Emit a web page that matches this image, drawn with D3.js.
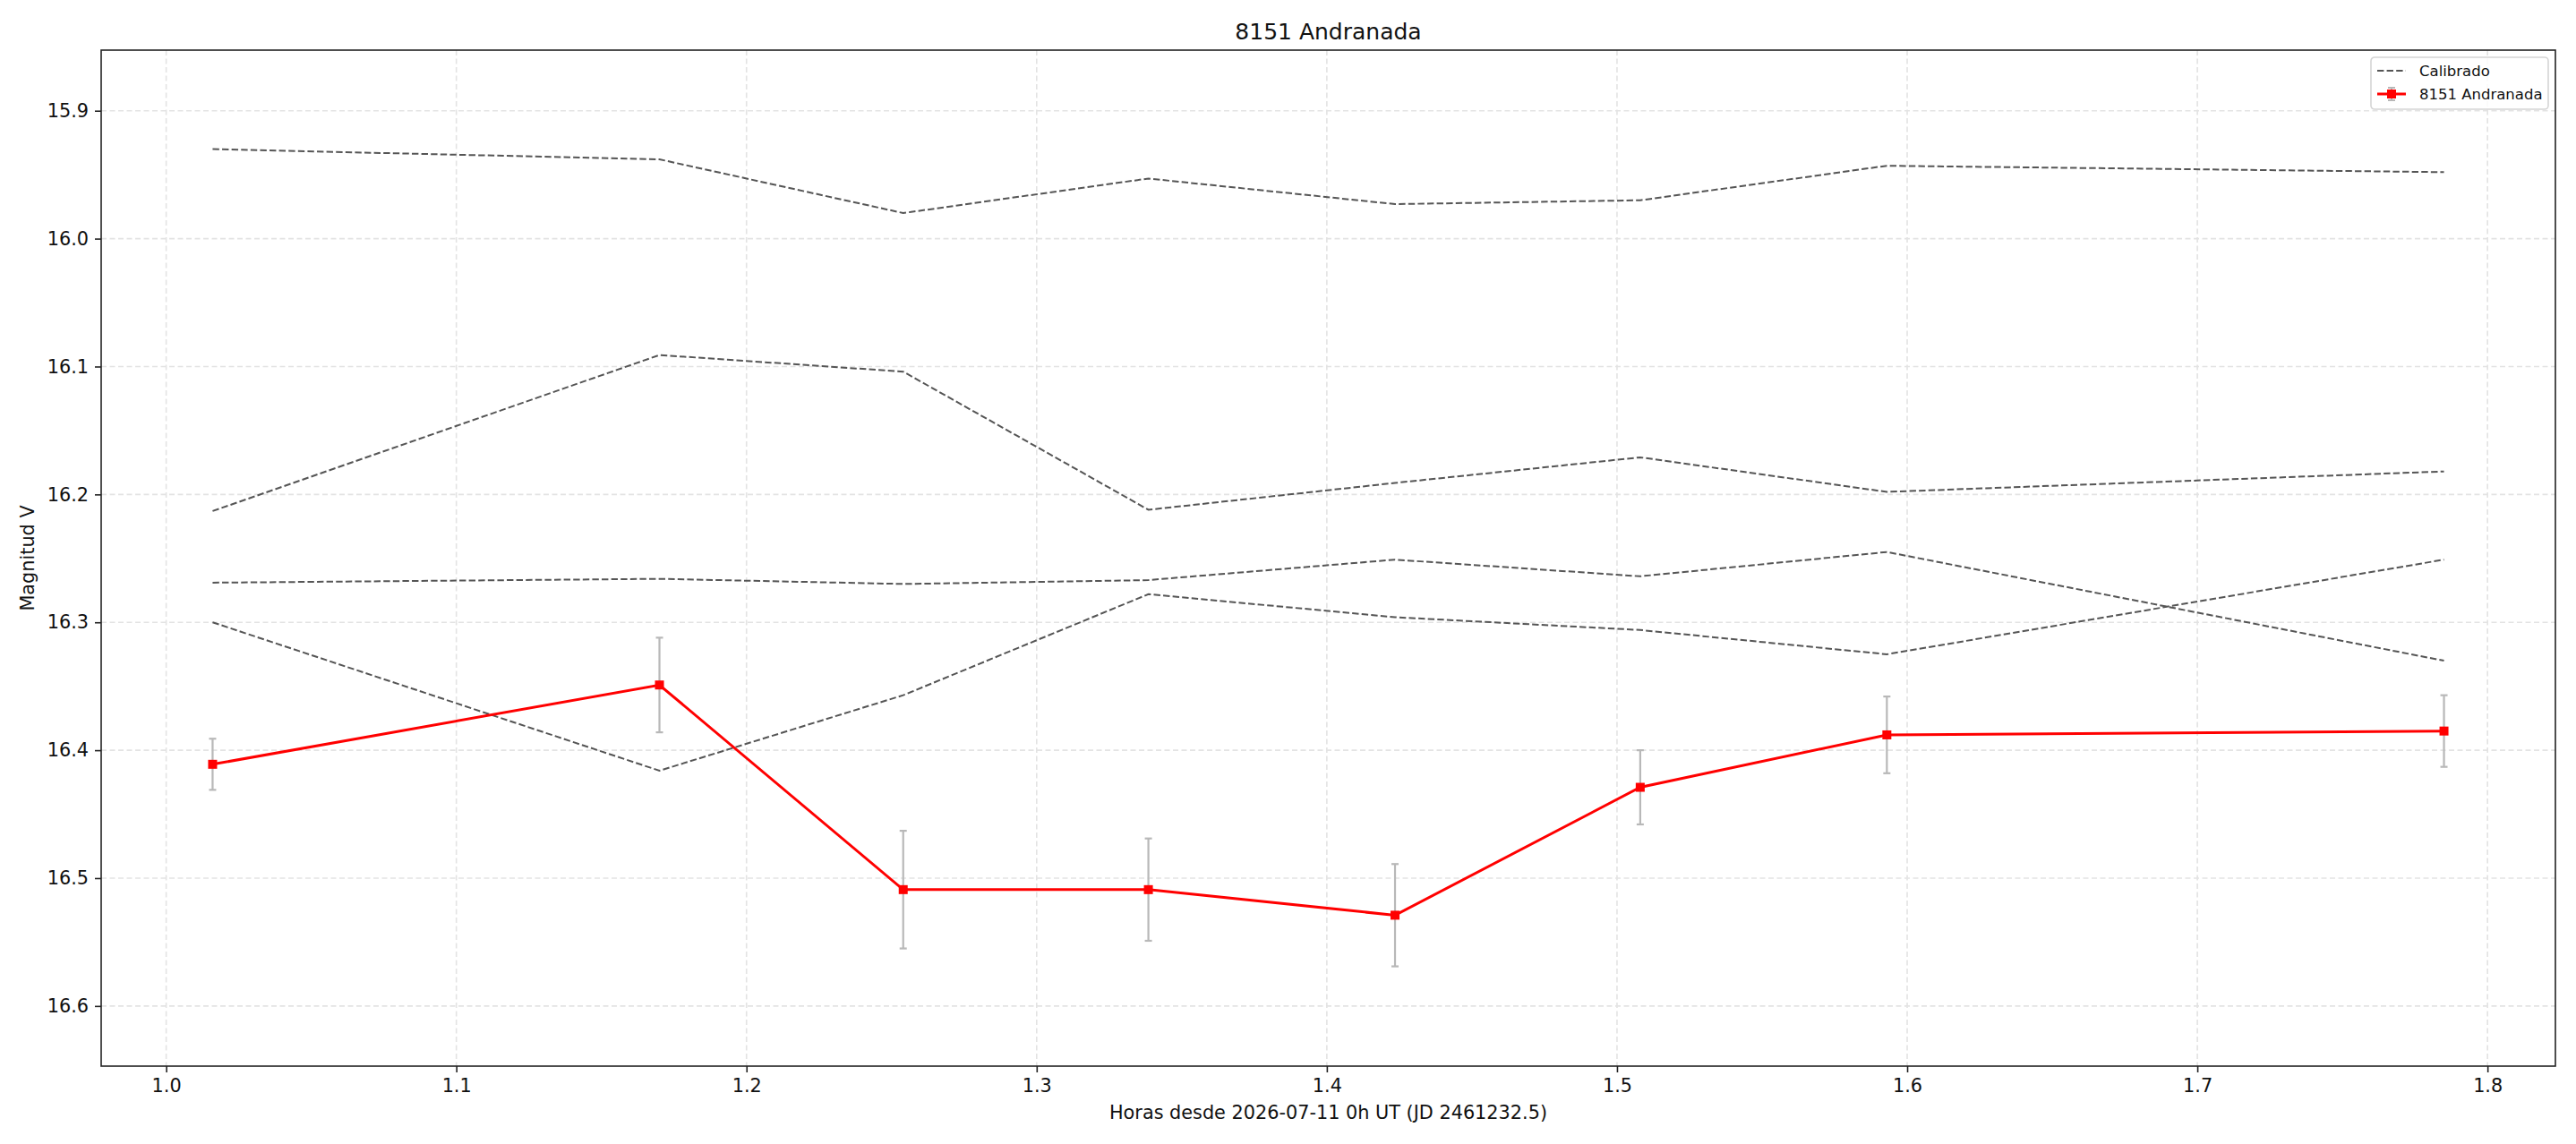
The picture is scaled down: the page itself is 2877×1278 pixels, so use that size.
<!DOCTYPE html>
<html>
<head>
<meta charset="utf-8">
<script src="https://cdn.jsdelivr.net/npm/d3@7"></script>
<style>
  body { margin: 0; background: #fff; }
  svg { display: block; font-family: "DejaVu Sans", sans-serif; }
</style>
</head>
<body>
<div id="chart"></div>
<script>
// observation times (hours since 2026-07-11 0h UT)
var times = [1.016, 1.170, 1.254, 1.3385, 1.4235, 1.508, 1.593, 1.785];

// target asteroid magnitudes and errors
var targetMag = [16.411, 16.349, 16.509, 16.509, 16.529, 16.429, 16.388, 16.385];
var targetErr = [0.020, 0.037, 0.046, 0.040, 0.040, 0.029, 0.030, 0.028];

// calibrated comparison stars
var calibA = [15.930, 15.938, 15.980, 15.953, 15.973, 15.970, 15.943, 15.948];
var calibB = [16.213, 16.091, 16.104, 16.212, 16.191, 16.171, 16.198, 16.182];
var calibC = [16.269, 16.266, 16.270, 16.267, 16.251, 16.264, 16.245, 16.330];
var calibD = [16.300, 16.416, 16.357, 16.278, 16.296, 16.306, 16.325, 16.251];
var calibSeries = [calibA, calibB, calibC, calibD];

var xTicks = [1.0, 1.1, 1.2, 1.3, 1.4, 1.5, 1.6, 1.7, 1.8];
var yTicks = [15.9, 16.0, 16.1, 16.2, 16.3, 16.4, 16.5, 16.6];

var width = 2877, height = 1278;
var margin = {top: 56, right: 23, bottom: 87, left: 113};
var innerW = width - margin.left - margin.right;
var innerH = height - margin.top - margin.bottom;

var svg = d3.select("#chart").append("svg")
    .attr("width", width)
    .attr("height", height);

var g = svg.append("g")
    .attr("transform", "translate(" + margin.left + "," + margin.top + ")");

var x = d3.scaleLinear()
    .domain([0.9776, 1.8234])
    .range([0, innerW]);

// magnitudes: brighter (smaller) at the top
var y = d3.scaleLinear()
    .domain([15.8526, 16.647])
    .range([0, innerH]);

// grid
g.append("g").selectAll("line")
    .data(xTicks)
    .enter().append("line")
      .attr("x1", function(d) { return x(d); })
      .attr("x2", function(d) { return x(d); })
      .attr("y1", 0).attr("y2", innerH)
      .attr("stroke", "#e3e3e3")
      .attr("stroke-width", 1.6)
      .attr("stroke-dasharray", "6,3.5");

g.append("g").selectAll("line")
    .data(yTicks)
    .enter().append("line")
      .attr("x1", 0).attr("x2", innerW)
      .attr("y1", function(d) { return y(d); })
      .attr("y2", function(d) { return y(d); })
      .attr("stroke", "#e3e3e3")
      .attr("stroke-width", 1.6)
      .attr("stroke-dasharray", "6,3.5");

var line = d3.line()
    .x(function(d, i) { return x(times[i]); })
    .y(function(d) { return y(d); });

// calibrated stars
g.append("g").selectAll("path")
    .data(calibSeries)
    .enter().append("path")
      .attr("d", line)
      .attr("fill", "none")
      .attr("stroke", "#555555")
      .attr("stroke-width", 2)
      .attr("stroke-dasharray", "7.4,3.2");

// error bars
var eb = g.append("g").selectAll("g")
    .data(targetMag)
    .enter().append("g")
      .attr("stroke", "#b8b8b8")
      .attr("stroke-width", 2.2);

eb.append("line")
    .attr("x1", function(d, i) { return x(times[i]); })
    .attr("x2", function(d, i) { return x(times[i]); })
    .attr("y1", function(d, i) { return y(d - targetErr[i]); })
    .attr("y2", function(d, i) { return y(d + targetErr[i]); });

eb.append("line")
    .attr("x1", function(d, i) { return x(times[i]) - 4; })
    .attr("x2", function(d, i) { return x(times[i]) + 4; })
    .attr("y1", function(d, i) { return y(d - targetErr[i]); })
    .attr("y2", function(d, i) { return y(d - targetErr[i]); });

eb.append("line")
    .attr("x1", function(d, i) { return x(times[i]) - 4; })
    .attr("x2", function(d, i) { return x(times[i]) + 4; })
    .attr("y1", function(d, i) { return y(d + targetErr[i]); })
    .attr("y2", function(d, i) { return y(d + targetErr[i]); });

// target line + square markers
g.append("path")
    .datum(targetMag)
    .attr("d", line)
    .attr("fill", "none")
    .attr("stroke", "#ff0000")
    .attr("stroke-width", 3);

g.append("g").selectAll("rect")
    .data(targetMag)
    .enter().append("rect")
      .attr("x", function(d, i) { return x(times[i]) - 5; })
      .attr("y", function(d) { return y(d) - 5; })
      .attr("width", 10)
      .attr("height", 10)
      .attr("fill", "#ff0000");

// axes
var xAxis = d3.axisBottom(x)
    .tickValues(xTicks)
    .tickFormat(d3.format(".1f"))
    .tickSize(7)
    .tickPadding(7);

var yAxis = d3.axisLeft(y)
    .tickValues(yTicks)
    .tickFormat(d3.format(".1f"))
    .tickSize(7)
    .tickPadding(7);

var gx = g.append("g")
    .attr("transform", "translate(0," + innerH + ")")
    .call(xAxis);
var gy = g.append("g").call(yAxis);

[gx, gy].forEach(function(a) {
  a.select(".domain").remove();
  a.selectAll(".tick line").attr("stroke", "#222").attr("stroke-width", 1.6);
  a.selectAll(".tick text")
    .attr("fill", "#111")
    .style("font-size", "20.8px")
    .style("font-family", "DejaVu Sans");
});

// frame
g.append("rect")
    .attr("width", innerW)
    .attr("height", innerH)
    .attr("fill", "none")
    .attr("stroke", "#222")
    .attr("stroke-width", 1.6);

// title and labels
svg.append("text")
    .attr("x", margin.left + innerW / 2)
    .attr("y", 44)
    .attr("text-anchor", "middle")
    .style("font-size", "25px")
    .attr("fill", "#111")
    .text("8151 Andranada");

svg.append("text")
    .attr("x", margin.left + innerW / 2)
    .attr("y", 1250)
    .attr("text-anchor", "middle")
    .style("font-size", "20.8px")
    .attr("fill", "#111")
    .text("Horas desde 2026-07-11 0h UT (JD 2461232.5)");

svg.append("text")
    .attr("transform", "translate(38," + (margin.top + innerH / 2) + ") rotate(-90)")
    .attr("text-anchor", "middle")
    .style("font-size", "20.8px")
    .attr("fill", "#111")
    .text("Magnitud V");

// legend
var lg = svg.append("g").attr("transform", "translate(2648,64)");
lg.append("rect")
    .attr("width", 198).attr("height", 58)
    .attr("rx", 4)
    .attr("fill", "#fff")
    .attr("fill-opacity", 0.8)
    .attr("stroke", "#d5d5d5")
    .attr("stroke-width", 1.6);

lg.append("line")
    .attr("x1", 7).attr("x2", 39).attr("y1", 15).attr("y2", 15)
    .attr("stroke", "#555555").attr("stroke-width", 2)
    .attr("stroke-dasharray", "7.4,3.2");
lg.append("text")
    .attr("x", 54).attr("y", 21)
    .style("font-size", "16.5px").attr("fill", "#111")
    .text("Calibrado");

lg.append("line")
    .attr("x1", 23).attr("x2", 23).attr("y1", 34).attr("y2", 48)
    .attr("stroke", "#b8b8b8").attr("stroke-width", 2);
lg.append("line")
    .attr("x1", 19).attr("x2", 27).attr("y1", 34).attr("y2", 34)
    .attr("stroke", "#b8b8b8").attr("stroke-width", 2);
lg.append("line")
    .attr("x1", 19).attr("x2", 27).attr("y1", 48).attr("y2", 48)
    .attr("stroke", "#b8b8b8").attr("stroke-width", 2);
lg.append("line")
    .attr("x1", 7).attr("x2", 39).attr("y1", 41).attr("y2", 41)
    .attr("stroke", "#ff0000").attr("stroke-width", 3);
lg.append("rect")
    .attr("x", 18).attr("y", 36).attr("width", 10).attr("height", 10)
    .attr("fill", "#ff0000");
lg.append("text")
    .attr("x", 54).attr("y", 47)
    .style("font-size", "16.5px").attr("fill", "#111")
    .text("8151 Andranada");
</script>
</body>
</html>
